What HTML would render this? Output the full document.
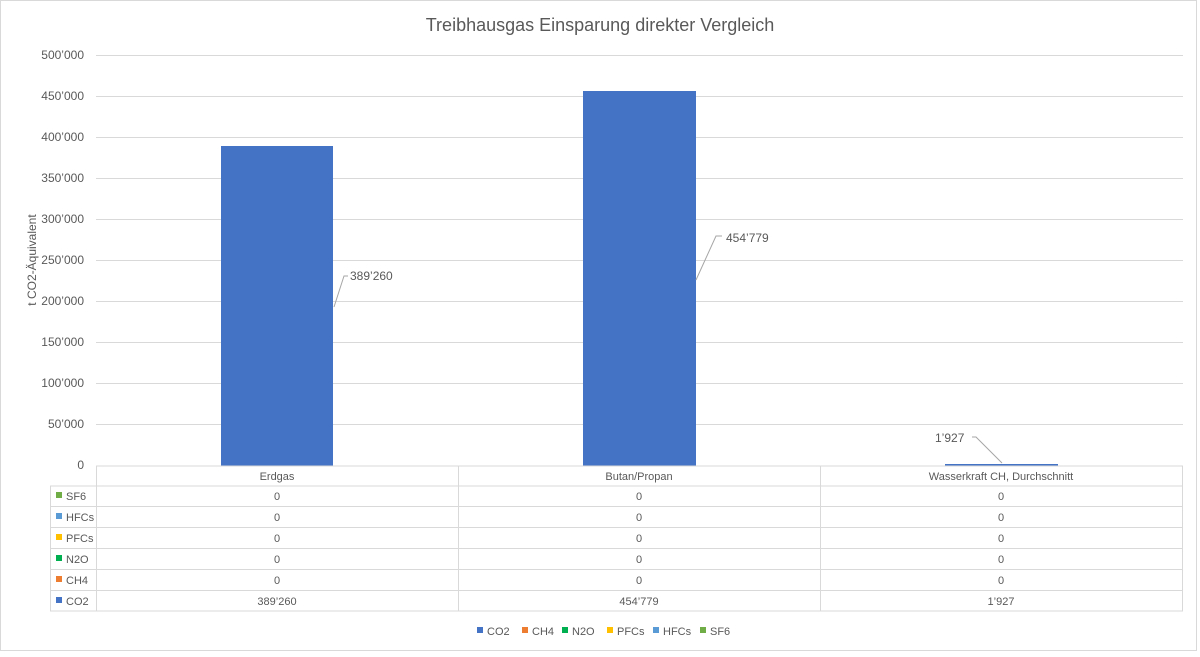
<!DOCTYPE html>
<html><head><meta charset="utf-8"><style>
html,body{margin:0;padding:0;background:#fff;}
svg text{font-family:"Liberation Sans",sans-serif;fill:#595959;}
</style></head><body>
<svg width="1200" height="652" xmlns="http://www.w3.org/2000/svg">
<rect x="0.5" y="0.5" width="1196" height="650" fill="#fff" stroke="#d9d9d9"/>
<text x="600" y="31" font-size="18" text-anchor="middle">Treibhausgas Einsparung direkter Vergleich</text>
<g stroke="#d9d9d9" stroke-width="1">
<line x1="96" y1="55.5" x2="1183" y2="55.5"/><line x1="96" y1="96.5" x2="1183" y2="96.5"/>
<line x1="96" y1="137.5" x2="1183" y2="137.5"/><line x1="96" y1="178.5" x2="1183" y2="178.5"/>
<line x1="96" y1="219.5" x2="1183" y2="219.5"/><line x1="96" y1="260.5" x2="1183" y2="260.5"/>
<line x1="96" y1="301.5" x2="1183" y2="301.5"/><line x1="96" y1="342.5" x2="1183" y2="342.5"/>
<line x1="96" y1="383.5" x2="1183" y2="383.5"/><line x1="96" y1="424.5" x2="1183" y2="424.5"/>
</g>
<g font-size="12" text-anchor="end">
<text x="84" y="59">500’000</text><text x="84" y="100">450’000</text><text x="84" y="141">400’000</text>
<text x="84" y="182">350’000</text><text x="84" y="223">300’000</text><text x="84" y="264">250’000</text>
<text x="84" y="305">200’000</text><text x="84" y="346">150’000</text><text x="84" y="387">100’000</text>
<text x="84" y="428">50’000</text><text x="84" y="469">0</text>
</g>
<text transform="translate(36,260) rotate(-90)" font-size="12" text-anchor="middle">t CO2-Äquivalent</text>
<rect x="221" y="146" width="112" height="320" fill="#4472c4"/>
<rect x="583" y="91" width="113" height="375" fill="#4472c4"/>
<rect x="945" y="464" width="113" height="2" fill="#4472c4"/>
<g stroke="#a6a6a6" fill="none">
<polyline points="334,307 344,276 348,276"/>
<polyline points="696,280 716,236 722,236"/>
<polyline points="1002,463 976,437 972,437"/>
</g>
<g font-size="12">
<text x="350" y="280">389’260</text>
<text x="726" y="242">454’779</text>
<text x="935" y="442">1’927</text>
</g>
<g stroke="#d9d9d9" fill="none">
<line x1="96" y1="466" x2="1183" y2="466"/>
<line x1="50" y1="486" x2="1183" y2="486"/>
<line x1="50" y1="506.5" x2="1183" y2="506.5"/>
<line x1="50" y1="527.5" x2="1183" y2="527.5"/>
<line x1="50" y1="548.5" x2="1183" y2="548.5"/>
<line x1="50" y1="569.5" x2="1183" y2="569.5"/>
<line x1="50" y1="590.5" x2="1183" y2="590.5"/>
<line x1="50" y1="611" x2="1183" y2="611"/>
<line x1="50.5" y1="486" x2="50.5" y2="611"/>
<line x1="96.5" y1="466" x2="96.5" y2="611"/>
<line x1="458.5" y1="466" x2="458.5" y2="611"/>
<line x1="820.5" y1="466" x2="820.5" y2="611"/>
<line x1="1182.5" y1="466" x2="1182.5" y2="611"/>
</g>
<g font-size="11" text-anchor="middle">
<text x="277" y="480">Erdgas</text><text x="639" y="480">Butan/Propan</text><text x="1001" y="480">Wasserkraft CH, Durchschnitt</text>
<text x="277" y="500">0</text><text x="639" y="500">0</text><text x="1001" y="500">0</text>
<text x="277" y="521">0</text><text x="639" y="521">0</text><text x="1001" y="521">0</text>
<text x="277" y="542">0</text><text x="639" y="542">0</text><text x="1001" y="542">0</text>
<text x="277" y="563">0</text><text x="639" y="563">0</text><text x="1001" y="563">0</text>
<text x="277" y="584">0</text><text x="639" y="584">0</text><text x="1001" y="584">0</text>
<text x="277" y="605">389’260</text><text x="639" y="605">454’779</text><text x="1001" y="605">1’927</text>
</g>
<g font-size="11">
<rect x="56" y="492" width="6" height="6" fill="#70ad47"/><text x="66" y="500">SF6</text>
<rect x="56" y="513" width="6" height="6" fill="#5b9bd5"/><text x="66" y="521">HFCs</text>
<rect x="56" y="534" width="6" height="6" fill="#ffc000"/><text x="66" y="542">PFCs</text>
<rect x="56" y="555" width="6" height="6" fill="#00b050"/><text x="66" y="563">N2O</text>
<rect x="56" y="576" width="6" height="6" fill="#ed7d31"/><text x="66" y="584">CH4</text>
<rect x="56" y="597" width="6" height="6" fill="#4472c4"/><text x="66" y="605">CO2</text>
</g>
<g font-size="11">
<rect x="477" y="627" width="6" height="6" fill="#4472c4"/><text x="487" y="635">CO2</text>
<rect x="522" y="627" width="6" height="6" fill="#ed7d31"/><text x="532" y="635">CH4</text>
<rect x="562" y="627" width="6" height="6" fill="#00b050"/><text x="572" y="635">N2O</text>
<rect x="607" y="627" width="6" height="6" fill="#ffc000"/><text x="617" y="635">PFCs</text>
<rect x="653" y="627" width="6" height="6" fill="#5b9bd5"/><text x="663" y="635">HFCs</text>
<rect x="700" y="627" width="6" height="6" fill="#70ad47"/><text x="710" y="635">SF6</text>
</g>
</svg>
</body></html>
